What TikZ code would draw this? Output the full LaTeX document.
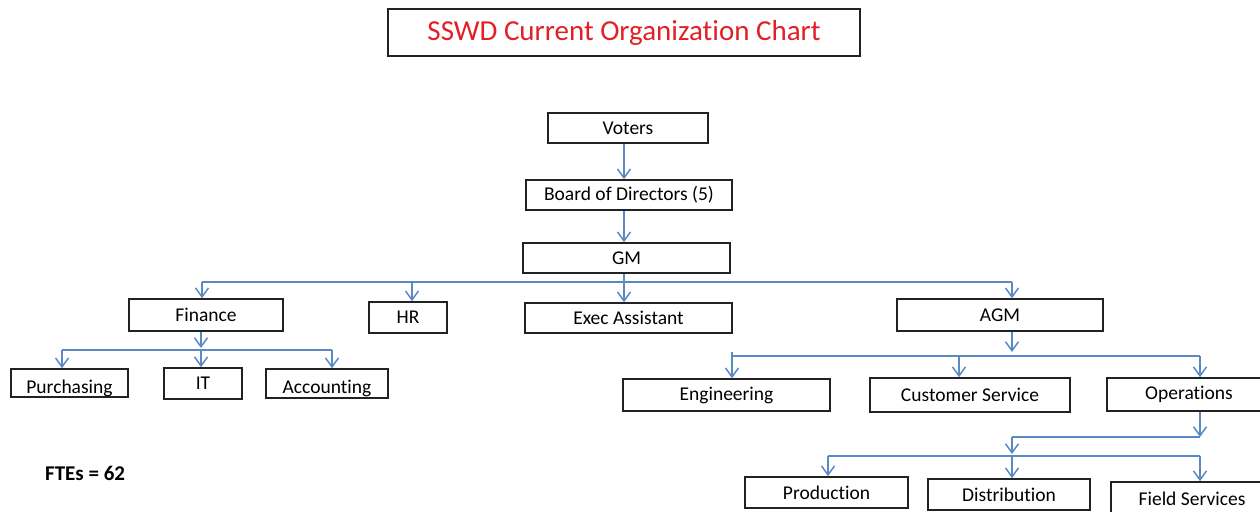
\documentclass[tikz,border=0pt]{standalone}
\usepackage{fontspec}
\setmainfont{Carlito}[Ligatures={NoCommon,NoContextual,NoRare}, Contextuals=NoAlternate]
\usetikzlibrary{arrows.meta,calc}
\definecolor{linkblue}{HTML}{5A8AC6}
\definecolor{titlered}{HTML}{E21F26}
\definecolor{boxline}{HTML}{222222}
\tikzset{
  orgbox/.style={draw=boxline, line width=1.6pt, fill=white, inner sep=0pt,
    font=\fontsize{19.5}{22}\selectfont},
  boxtext/.style={font=\fontsize{19.5}{22}\selectfont, inner sep=0pt, anchor=base},
  link/.style={draw=linkblue, line width=1.5pt},
  linkarr/.style={link, -{Straight Barb[length=9pt,width=13pt,line width=1.5pt]}},
}
\begin{document}
\begin{tikzpicture}[x=1pt,y=-1pt]
\useasboundingbox (0,0) rectangle (1260,511);
\clip (0,0) rectangle (1260,511);
% title
\node[draw=boxline, line width=1.6pt, inner sep=0pt, minimum width=472pt, minimum height=47pt,
  text=titlered, font=\fontsize{29}{32}\selectfont] (title) at (624,32.5) {SSWD Current Organization Chart};
% boxes
\node[orgbox, minimum width=160pt, minimum height=30pt] (voters) at (628,128) {Voters};
\node[orgbox, minimum width=206pt, minimum height=30pt] (board) at (629,195) {Board of Directors (5)};
\node[orgbox, minimum width=207pt, minimum height=30pt] (gm) at (626.5,258) {GM};
\node[orgbox, minimum width=154pt, minimum height=32pt] (finance) at (206,315) {Finance};
\node[orgbox, minimum width=78pt, minimum height=31pt] (hr) at (408,317.5) {HR};
\node[orgbox, minimum width=207pt, minimum height=30pt] (exec) at (628.5,318) {Exec Assistant};
\node[orgbox, minimum width=206pt, minimum height=32pt] (agm) at (1000,315) {AGM};
\node[orgbox, minimum width=117pt, minimum height=28pt] (purch) at (69.5,383) {};
\node[orgbox, minimum width=78pt, minimum height=31pt] (it) at (203,383.5) {IT};
\node[orgbox, minimum width=122pt, minimum height=29pt] (acct) at (327,383.5) {};
\begin{scope}
  \clip (purch.north west) rectangle ([yshift=-5pt]purch.south east);
  \node[boxtext] (purchtxt) at (69.5,393) {Purchasing};
\end{scope}
\begin{scope}
  \clip (acct.north west) rectangle ([yshift=-6pt]acct.south east);
  \node[boxtext] (accttxt) at (327,393) {Accounting};
\end{scope}
\node[orgbox, minimum width=207pt, minimum height=32pt] (eng) at (726.5,395) {Engineering};
\node[orgbox, minimum width=200pt, minimum height=34pt] (cust) at (970,395) {Customer Service};
\node[orgbox, minimum width=164pt, minimum height=33pt] (ops) at (1189,394.5) {Operations};
\node[orgbox, minimum width=163pt, minimum height=31pt] (prod) at (826.5,492.5) {Production};
\node[orgbox, minimum width=162pt, minimum height=31pt] (dist) at (1009,494.5) {Distribution};
\node[orgbox, minimum width=162pt, minimum height=33pt] (field) at (1192,498.5) {Field Services};
\node[font=\bfseries\fontsize{21}{24}\selectfont, anchor=west, inner sep=0pt] (fte) at (45,473) {FTEs = 62};
% column coordinates
\coordinate (cTop) at (624,0);
\coordinate (cFin) at (202,0);
\coordinate (cHR) at (412,0);
\coordinate (cAGM) at (1012,0);
\coordinate (cPur) at (62,0);
\coordinate (cIT) at (201,0);
\coordinate (cAcc) at (332,0);
\coordinate (cEng) at (732,0);
\coordinate (cCus) at (959,0);
\coordinate (cOps) at (1200,0);
\coordinate (cDis) at (1012,0);
\coordinate (cPro) at (828,0);
% row coordinates
\coordinate (bus1) at (0,282);
\coordinate (bus2) at (0,350);
\coordinate (bus3) at (0,356);
\coordinate (bus4a) at (0,437);
\coordinate (bus4) at (0,456);
% top chain
\draw[linkarr] (voters.south -| cTop) -- (board.north -| cTop);
\draw[linkarr] (board.south -| cTop) -- (gm.north -| cTop);
\draw[linkarr] (gm.south -| cTop) -- (exec.north -| cTop);
\draw[link] (bus1 -| cFin) -- (bus1 -| cAGM);
\draw[linkarr] (bus1 -| cFin) -- (finance.north -| cFin);
\draw[linkarr] (bus1 -| cHR) -- (hr.north -| cHR);
\draw[linkarr] (bus1 -| cAGM) -- (agm.north -| cAGM);
% finance branch
\draw[linkarr] (finance.south -| cIT) -- ([yshift=2pt]bus2 -| cIT);
\draw[link] (bus2 -| cPur) -- (bus2 -| cAcc);
\draw[linkarr] (bus2 -| cPur) -- (purch.north -| cPur);
\draw[linkarr] (bus2 -| cIT) -- (it.north -| cIT);
\draw[linkarr] (bus2 -| cAcc) -- (acct.north -| cAcc);
% AGM branch
\draw[linkarr] (agm.south -| cAGM) -- ([yshift=4pt]bus3 -| cAGM);
\draw[link] (bus3 -| cEng) -- (bus3 -| cOps);
\draw[linkarr] ([yshift=4pt]bus3 -| cEng) -- (eng.north -| cEng);
\draw[linkarr] (bus3 -| cCus) -- (cust.north -| cCus);
\draw[linkarr] (bus3 -| cOps) -- (ops.north -| cOps);
% operations branch
\draw[linkarr] (ops.south -| cOps) -- (bus4a -| cOps);
\draw[link] (bus4a -| cOps) -- (bus4a -| cDis);
\draw[linkarr] (bus4a -| cDis) -- ([yshift=2pt]bus4 -| cDis);
\draw[link] (bus4 -| cPro) -- (bus4 -| cOps);
\draw[linkarr] (bus4 -| cPro) -- (prod.north -| cPro);
\draw[linkarr] (bus4 -| cDis) -- (dist.north -| cDis);
\draw[linkarr] (bus4 -| cOps) -- (field.north -| cOps);
\end{tikzpicture}
\end{document}
